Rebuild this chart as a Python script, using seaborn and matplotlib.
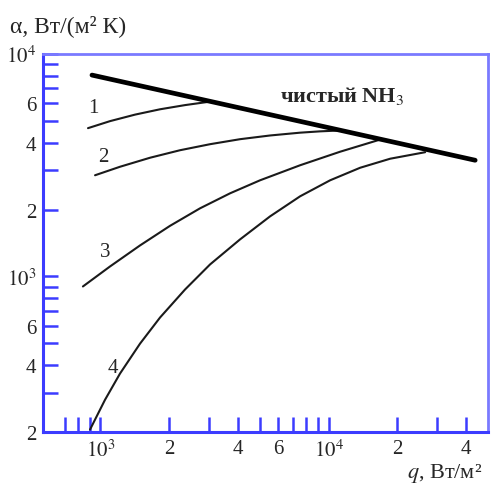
import numpy as np
import pandas as pd
import seaborn as sns
import matplotlib.pyplot as plt
from matplotlib.ticker import NullFormatter

sns.set_theme(style='white')
plt.rcParams['font.family'] = ['Liberation Serif', 'DejaVu Serif']
plt.rcParams['mathtext.fontset'] = 'stix'

# Данные (q, Вт/м2 ; alpha, Вт/(м2 К))
q_nh3 = [918, 43930]
a_nh3 = [8040, 3330]

q_1 = [882, 1101, 1418, 1825, 2349, 3024]
a_1 = [4642, 4991, 5340, 5643, 5893, 6109]

q_2 = [947, 1218, 1650, 2233, 3024, 4093, 5541, 7504, 9181, 11234]
a_2 = [2851, 3113, 3418, 3694, 3932, 4141, 4303, 4430, 4491, 4532]

q_3 = [838, 1101, 1491, 2018, 2733, 3700, 5008, 7504, 11234, 16500]
a_3 = [902, 1109, 1379, 1689, 2025, 2365, 2706, 3162, 3637, 4099]

q_4 = [900, 1047, 1218, 1491, 1825, 2349, 3024, 4093, 5541, 7504, 10158,
       13753, 18620, 26510]
a_4 = [205, 279, 366, 499, 654, 874, 1133, 1468, 1863, 2293, 2706,
       3081, 3383, 3619]

curve_labels = ['1', '2', '3', '4']
label_q = [927, 1026, 1047, 1135]
label_a = [5770, 3470, 1296, 389]

x_major = [1e3, 2e3, 4e3, 6e3, 1e4, 2e4, 4e4]
x_major_lbl = [r'$10^3$', '2', '4', '6', r'$10^4$', '2', '4']
x_minor = [700, 800, 900, 3e3, 5e3, 7e3, 8e3, 9e3, 3e4]
y_major = [200, 400, 600, 1e3, 2e3, 4e3, 6e3, 1e4]
y_major_lbl = ['2', '4', '6', r'$10^3$', '2', '4', '6', r'$10^4$']
y_minor = [300, 500, 700, 800, 900, 3e3, 5e3, 7e3, 8e3, 9e3]

fig = plt.figure(figsize=(4.94, 4.85), dpi=100)
ax = fig.add_axes([43 / 494, 52 / 485, 445 / 494, 378 / 485])

for qq, aa in [(q_1, a_1), (q_2, a_2), (q_3, a_3), (q_4, a_4)]:
    sns.lineplot(x=qq, y=aa, ax=ax, color='#1a1a1a', lw=1.5,
                 estimator=None, sort=False)
sns.lineplot(x=q_nh3, y=a_nh3, ax=ax, color='black', lw=3.4,
             estimator=None, sort=False)

ax.set_xscale('log')
ax.set_yscale('log')
ax.set_xlim(560, 50000)
ax.set_ylim(200, 10000)

ax.set_xticks(x_major, x_major_lbl)
ax.set_xticks(x_minor, minor=True)
ax.set_yticks(y_major, y_major_lbl)
ax.set_yticks(y_minor, minor=True)
ax.xaxis.set_minor_formatter(NullFormatter())
ax.yaxis.set_minor_formatter(NullFormatter())
ax.tick_params(which='both', direction='in', length=11, width=1.8,
               bottom=True, left=True, top=False, right=False,
               color='#3c3cff', labelcolor='#262626', labelsize=15, pad=5)

for side in ['left', 'bottom']:
    ax.spines[side].set_color('#3c3cff')
    ax.spines[side].set_linewidth(2.2)
for side in ['top', 'right']:
    ax.spines[side].set_color('#7a7aff')
    ax.spines[side].set_linewidth(2.0)

for lbl, xq, ya in zip(curve_labels, label_q, label_a):
    ax.text(xq, ya, lbl, fontsize=15, color='#262626', ha='center', va='center')

ax.text(0.672, 0.892, 'чистый NH$_3$', transform=ax.transAxes, fontsize=16,
        fontweight='bold', color='#262626', ha='center', va='center')

fig.text(10 / 494, 1 - 26 / 485, 'α, Вт/(м² К)', fontsize=17, color='#262626',
         ha='left', va='center')
fig.text(407 / 494, 1 - 474 / 485, '$q$, Вт/м²', fontsize=16, color='#262626',
         ha='left', va='center')

ax.set_xlabel('')
ax.set_ylabel('')
fig.savefig('out.png', dpi=100)
